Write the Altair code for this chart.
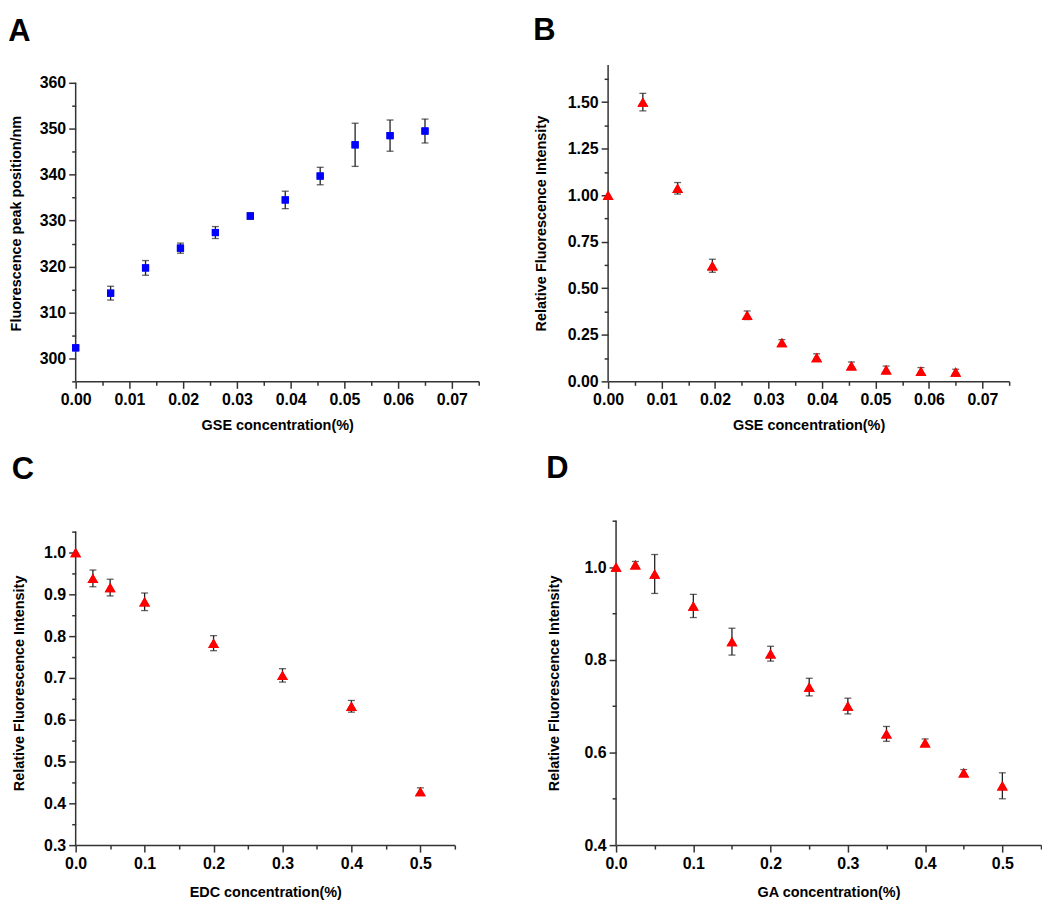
import altair as alt
import pandas as pd

# ---------------- data ----------------
A_x = [0.0, 0.0065, 0.013, 0.0195, 0.026, 0.0325, 0.039, 0.0455, 0.052, 0.0585, 0.065]
A_y = [302.3, 314.2, 319.7, 324.0, 327.4, 331.0, 334.5, 339.7, 346.5, 348.5, 349.5]
A_err = [0.4, 1.5, 1.6, 1.1, 1.3, 0.7, 1.9, 1.9, 4.7, 3.4, 2.6]

B_x = [0.0, 0.0065, 0.013, 0.0195, 0.026, 0.0325, 0.039, 0.0455, 0.052, 0.0585, 0.065]
B_y = [1.00, 1.50, 1.037, 0.621, 0.355, 0.208, 0.128, 0.084, 0.062, 0.054, 0.050]
B_err = [0.0, 0.047, 0.031, 0.035, 0.023, 0.016, 0.02, 0.02, 0.02, 0.02, 0.015]

C_x = [0.0, 0.025, 0.05, 0.1, 0.2, 0.3, 0.4, 0.5]
C_y = [1.0, 0.938, 0.916, 0.882, 0.783, 0.706, 0.632, 0.428]
C_err = [0.0, 0.02, 0.02, 0.021, 0.018, 0.016, 0.014, 0.009]

D_x = [0.0, 0.025, 0.05, 0.1, 0.15, 0.2, 0.25, 0.3, 0.35, 0.4, 0.45, 0.5]
D_y = [1.0, 1.005, 0.985, 0.916, 0.839, 0.813, 0.741, 0.700, 0.640, 0.621, 0.556, 0.528]
D_err = [0.0, 0.007, 0.042, 0.025, 0.029, 0.016, 0.019, 0.017, 0.016, 0.008, 0.007, 0.028]

# tick values
A_xticks = [0.0, 0.01, 0.02, 0.03, 0.04, 0.05, 0.06, 0.07]
A_xminor = [0.005, 0.015, 0.025, 0.035, 0.045, 0.055, 0.065, 0.075]
A_yticks = [300, 310, 320, 330, 340, 350, 360]
A_yminor = [295, 305, 315, 325, 335, 345, 355]
B_yticks = [0.0, 0.25, 0.5, 0.75, 1.0, 1.25, 1.5]
B_yminor = [0.125, 0.375, 0.625, 0.875, 1.125, 1.375, 1.625]
C_xticks = [0.0, 0.1, 0.2, 0.3, 0.4, 0.5]
C_xminor = [0.05, 0.15, 0.25, 0.35, 0.45, 0.55]
C_yticks = [0.3, 0.4, 0.5, 0.6, 0.7, 0.8, 0.9, 1.0]
C_yminor = [0.35, 0.45, 0.55, 0.65, 0.75, 0.85, 0.95, 1.05]
D_yticks = [0.4, 0.6, 0.8, 1.0]
D_yminor = [0.5, 0.7, 0.9, 1.1]

# axis extents (y axis line range) and scale domains
A_yline = [295, 360]
A_ydom = [295, 363.9]
B_yline = [0, 1.7]
B_ydom = [0, 1.7]
C_yline = [0.3, 1.05]
C_ydom = [0.3, 1.076]
D_yline = [0.4, 1.1]
D_ydom = [0.4, 1.1]

FONT = "Liberation Sans"
AXC = "#333333"


def panel(xs, ys, errs, letter, xtitle, ytitle, xdom, ydom, yline,
          xmaj, xmin, ymaj, ymin, xfmt, yfmt, w, h,
          shape, color, msize, toff, ytp, xtp):
    df = pd.DataFrame({"x": xs, "y": ys, "err": errs})
    df["lo"] = df["y"] - df["err"]
    df["hi"] = df["y"] + df["err"]
    dfe = df[df["err"] > 0]
    dline = pd.DataFrame({"x": [xdom[0]], "lo": [yline[0]], "hi": [yline[1]]})

    xs_ = alt.Scale(domain=xdom, nice=False, zero=False)
    ys_ = alt.Scale(domain=ydom, nice=False, zero=False)
    common = dict(labelFont=FONT, labelFontSize=16, labelFontWeight="bold",
                  labelColor="black", titleFont=FONT, titleFontSize=14.5,
                  titleFontWeight="bold", titleColor="black",
                  domainColor=AXC, domainWidth=1.5, tickColor=AXC,
                  tickWidth=1.5, tickSize=7, grid=False, labelOverlap=False,
                  labelFlush=False, labelPadding=3)
    xax = alt.Axis(values=xmaj, format=xfmt, title=xtitle, orient="bottom",
                   titlePadding=xtp, **common)
    yax = alt.Axis(values=ymaj, format=yfmt, title=ytitle, orient="left",
                   titlePadding=ytp, domain=False, **common)
    xminax = alt.Axis(values=xmin, labels=False, domain=False, title=None,
                      orient="bottom", tickSize=4, tickWidth=1.5,
                      tickColor=AXC, grid=False)
    yminax = alt.Axis(values=ymin, labels=False, domain=False, title=None,
                      orient="left", tickSize=4, tickWidth=1.5,
                      tickColor=AXC, grid=False)

    axisline = alt.Chart(dline).mark_rule(color=AXC, strokeWidth=1.5).encode(
        x=alt.X("x:Q", scale=xs_, axis=xax),
        y=alt.Y("lo:Q", scale=ys_, axis=yax),
        y2="hi:Q",
    )
    pts = alt.Chart(df).mark_point(shape=shape, filled=True, size=msize,
                                   color=color, opacity=1).encode(
        x=alt.X("x:Q", scale=xs_, axis=xax),
        y=alt.Y("y:Q", scale=ys_, axis=yax),
    )
    bars = alt.Chart(dfe).mark_rule(color="#222222", strokeWidth=1.3).encode(
        x=alt.X("x:Q", scale=xs_, axis=xax),
        y=alt.Y("lo:Q", scale=ys_, axis=yax),
        y2="hi:Q",
    )
    cap_hi = alt.Chart(dfe).mark_tick(orient="horizontal", size=7,
                                      thickness=1.3, color="#222222").encode(
        x=alt.X("x:Q", scale=xs_, axis=xax),
        y=alt.Y("hi:Q", scale=ys_, axis=yax),
    )
    cap_lo = alt.Chart(dfe).mark_tick(orient="horizontal", size=7,
                                      thickness=1.3, color="#222222").encode(
        x=alt.X("x:Q", scale=xs_, axis=xax),
        y=alt.Y("lo:Q", scale=ys_, axis=yax),
    )
    main = alt.layer(pts, axisline, bars, cap_hi, cap_lo, pts)
    minor = alt.Chart(df).mark_point(opacity=0).encode(
        x=alt.X("x:Q", scale=xs_, axis=xminax),
        y=alt.Y("y:Q", scale=ys_, axis=yminax),
    )
    return alt.layer(main, minor).resolve_axis(
        x="independent", y="independent"
    ).properties(
        width=w, height=h,
        title=alt.TitleParams(text=letter, anchor="start", frame="bounds",
                              font=FONT, fontSize=31,
                              fontWeight="bold", color="black", offset=toff),
    )


pA = panel(A_x, A_y, A_err, "A", "GSE concentration(%)",
           "Fluorescence peak position/nm", [0, 0.075], A_ydom, A_yline,
           A_xticks, A_xminor, A_yticks, A_yminor, ".2f", "d", 405, 318,
           "square", "#0000FF", 52, 17, 16, 11)
pB = panel(B_x, B_y, B_err, "B", "GSE concentration(%)",
           "Relative Fluorescence Intensity", [0, 0.075], B_ydom, B_yline,
           A_xticks, A_xminor, B_yticks, B_yminor, ".2f", ".2f", 403, 318,
           "triangle-up", "#FF0000", 120, 17, 19, 11)
pC = panel(C_x, C_y, C_err, "C", "EDC concentration(%)",
           "Relative Fluorescence Intensity", [0, 0.55], C_ydom, C_yline,
           C_xticks, C_xminor, C_yticks, C_yminor, ".1f", ".1f", 381, 326,
           "triangle-up", "#FF0000", 120, 35, 17, 15)
pD = panel(D_x, D_y, D_err, "D", "GA concentration(%)",
           "Relative Fluorescence Intensity", [0, 0.55], D_ydom, D_yline,
           C_xticks, C_xminor, D_yticks, D_yminor, ".1f", ".1f", 427, 326,
           "triangle-up", "#FF0000", 120, 35, 23, 15)

row1 = alt.hconcat(pA, pB, spacing=53)
row2 = alt.hconcat(pC, pD, spacing=90)
chart = alt.vconcat(row1, row2, spacing=21).properties(
    padding={"top": 5, "left": 0, "right": 0, "bottom": 0},
    background="white",
).configure_view(stroke=None)

chart.save("out.html", embed_options={"renderer": "svg", "actions": False})
